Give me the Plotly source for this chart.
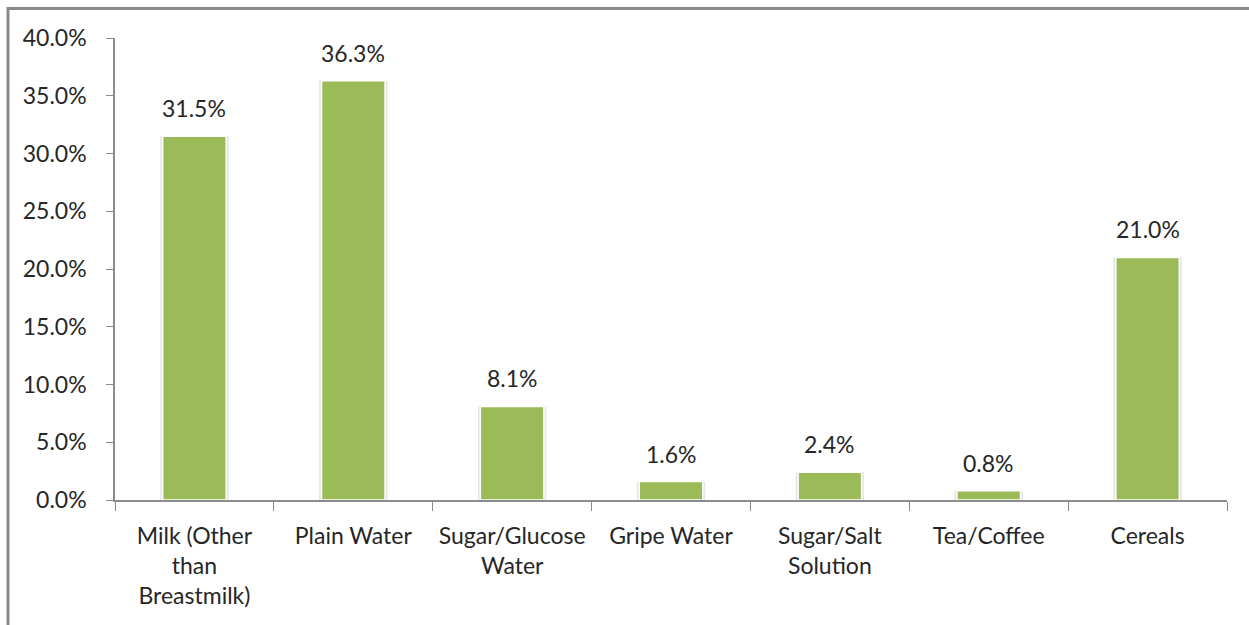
import plotly.graph_objects as go

categories = ["Milk (Other<br>than<br>Breastmilk)", "Plain Water", "Sugar/Glucose<br>Water",
              "Gripe Water", "Sugar/Salt<br>Solution", "Tea/Coffee", "Cereals"]
values = [31.5, 36.3, 8.1, 1.6, 2.4, 0.8, 21.0]
y_ticks = [0, 5, 10, 15, 20, 25, 30, 35, 40]
y_tick_labels = [f"{t:.1f}%" for t in y_ticks]

FONT = "Lato"
FS = 23
GREEN = "#9BBB59"
TXT = "#262626"

W, H = 1249, 625
L, R, T, B = 115, 22, 38, 125
PW, PH = W - L - R, H - T - B

fig = go.Figure()
fig.add_trace(go.Bar(x=categories, y=values, width=0.43,
                     marker=dict(color="rgba(0,0,0,0.10)", line=dict(width=0)),
                     hoverinfo="skip", showlegend=False))
fig.add_trace(go.Bar(x=categories, y=values, width=0.40,
                     marker=dict(color=GREEN, line=dict(color="white", width=1.5)),
                     showlegend=False))

for c, v in zip(categories, values):
    fig.add_annotation(x=c, y=v, text=f"{v:.1f}%", showarrow=False, yanchor="bottom", yshift=12,
                       font=dict(family=FONT, size=FS, color=TXT))

fig.update_layout(
    width=W, height=H,
    margin=dict(l=L, r=R, t=T, b=B),
    paper_bgcolor="white", plot_bgcolor="white",
    barmode="overlay",
    font=dict(family=FONT, size=FS, color=TXT),
    xaxis=dict(showline=True, linecolor="#8c8c8c", linewidth=1.5, ticks="outside", ticklen=9,
               tickcolor="#8c8c8c", tickson="boundaries", showgrid=False, ticklabelstandoff=15,
               tickfont=dict(family=FONT, size=FS, color=TXT)),
    yaxis=dict(range=[0, 40], tickvals=y_ticks, ticktext=y_tick_labels, showline=True,
               linecolor="#8c8c8c", linewidth=1.5, ticks="outside", ticklen=7, tickcolor="#8c8c8c",
               showgrid=False, zeroline=False, ticklabelstandoff=15,
               tickfont=dict(family=FONT, size=FS, color=TXT)),
    shapes=[
        dict(type="line", xref="paper", yref="paper", x0=-(L - 7) / PW, x1=(W - L) / PW,
             y0=1 + (T - 8.5) / PH, y1=1 + (T - 8.5) / PH, line=dict(color="#8a8a8a", width=3)),
        dict(type="line", xref="paper", yref="paper", x0=-(L - 8) / PW, x1=-(L - 8) / PW,
             y0=1 + (T - 7) / PH, y1=-B / PH, line=dict(color="#8a8a8a", width=3)),
    ],
)

fig.write_html("out.html", config={"displayModeBar": False},
               post_script="document.body.style.margin='0';document.body.style.overflow='hidden';")
